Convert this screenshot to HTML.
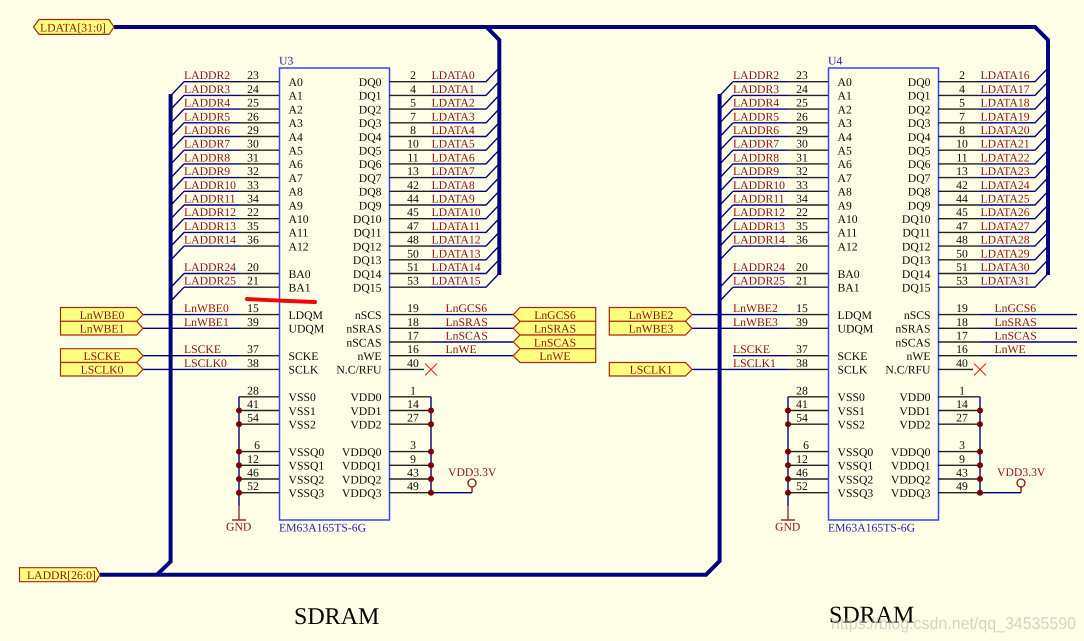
<!DOCTYPE html>
<html>
<head>
<meta charset="utf-8">
<style>
html,body{margin:0;padding:0;width:1084px;height:641px;overflow:hidden;background:#ffffe8}
svg{display:block}
text{font-family:"Liberation Serif",serif;font-size:11.7px;fill:#0a0a0a;text-rendering:geometricPrecision}
.a{fill:#8c1414}
.p{text-anchor:middle}
.r{text-anchor:end}
.c{text-anchor:middle;fill:#8c1414}
.u{fill:#2424a8}
.t{font-size:24px;fill:#050505}
.w{font-family:"Liberation Sans",sans-serif;font-size:17px;fill:#a8a8a8;fill-opacity:.5}
.b{fill:none;stroke:#00007f;stroke-width:1.4}
.k{fill:none;stroke:#222;stroke-width:1.4}
.bus{fill:none;stroke:#000080;stroke-width:4}
.port{fill:#ffff80;stroke:#a62a10;stroke-width:1.2}
</style>
</head>
<body>
<svg width="1084" height="641" viewBox="0 0 1084 641" xmlns="http://www.w3.org/2000/svg">
<rect width="1084" height="641" fill="#ffffe8"/>
<defs>
<g id="chip">
<rect x="279.5" y="68" width="110" height="452" fill="none" stroke="#3644ff" stroke-width="1.5"/>
<path class="b" d="M184 81.7H239M184 95.4H239M184 109.1H239M184 122.8H239M184 136.5H239M184 150.2H239M184 163.9H239M184 177.6H239M184 191.3H239M184 205H239M184 218.7H239M184 232.4H239M184 246.1H239M184 273.5H239M184 287.2H239"/>
<path class="b" d="M184 81.7L171 95.4M184 95.4L171 109.1M184 109.1L171 122.8M184 122.8L171 136.5M184 136.5L171 150.2M184 150.2L171 163.9M184 163.9L171 177.6M184 177.6L171 191.3M184 191.3L171 205M184 205L171 218.7M184 218.7L171 232.4M184 232.4L171 246.1M184 246.1L171 259.8M184 273.5L171 287.2M184 287.2L171 300.9"/>
<path class="k" d="M239 81.7H279M239 95.4H279M239 109.1H279M239 122.8H279M239 136.5H279M239 150.2H279M239 163.9H279M239 177.6H279M239 191.3H279M239 205H279M239 218.7H279M239 232.4H279M239 246.1H279M239 273.5H279M239 287.2H279"/>
<path class="k" d="M389 81.7H431M389 95.4H431M389 109.1H431M389 122.8H431M389 136.5H431M389 150.2H431M389 163.9H431M389 177.6H431M389 191.3H431M389 205H431M389 218.7H431M389 232.4H431M389 246.1H431M389 259.8H431M389 273.5H431M389 287.2H431"/>
<path class="b" d="M431 81.7H486L499 68M431 95.4H486L499 81.7M431 109.1H486L499 95.4M431 122.8H486L499 109.1M431 136.5H486L499 122.8M431 150.2H486L499 136.5M431 163.9H486L499 150.2M431 177.6H486L499 163.9M431 191.3H486L499 177.6M431 205H486L499 191.3M431 218.7H486L499 205M431 232.4H486L499 218.7M431 246.1H486L499 232.4M431 259.8H486L499 246.1M431 273.5H486L499 259.8M431 287.2H486L499 273.5"/>
<path class="b" d="M143 314.6H239M143 328.3H239M184 355.7H239M143 369.4H239"/>
<path class="k" d="M239 314.6H279M239 328.3H279M239 355.7H279M239 369.4H279"/>
<path class="k" d="M389 314.6H431M389 328.3H431M389 342H431M389 355.7H431M389 369.4H424"/>
<path class="b" d="M431 314.6H513M431 328.3H513M431 342H513M431 355.7H513"/>
<path d="M425 363.5L437 375.5M437 363.5L425 375.5" fill="none" stroke="#f02a2a" stroke-width="1.2"/>
<path class="k" d="M279 396.8H239M239 410.5H279M239 424.2H279M239 451.6H279M239 465.3H279M239 479H279M239 492.7H279"/>
<path class="k" d="M389 396.8H431M389 410.5H431M389 424.2H431M389 451.6H431M389 465.3H431M389 479H431M389 492.7H431"/>
<path class="b" d="M239 396.8V506M431 396.8V492.7H472"/>
<path d="M239 506V520M232 520H246" fill="none" stroke="#94302a" stroke-width="1.4"/>
<path d="M472 492.7V487" fill="none" stroke="#8c1414" stroke-width="1.4"/>
<circle cx="472" cy="483" r="4" fill="none" stroke="#8c1414" stroke-width="1.3"/>
<g fill="#7a0000"><circle cx="239" cy="410.5" r="3"/><circle cx="239" cy="424.2" r="3"/><circle cx="239" cy="451.6" r="3"/><circle cx="239" cy="465.3" r="3"/><circle cx="239" cy="479" r="3"/><circle cx="239" cy="492.7" r="3"/><circle cx="431" cy="410.5" r="3"/><circle cx="431" cy="424.2" r="3"/><circle cx="431" cy="451.6" r="3"/><circle cx="431" cy="465.3" r="3"/><circle cx="431" cy="479" r="3"/><circle cx="431" cy="492.7" r="3"/></g>
</g>
</defs>

<use href="#chip"/>
<use href="#chip" x="549"/>

<path class="bus" d="M114 27H1035L1048 40V275"/>
<path class="bus" d="M486.5 27L499.3 40V275"/>
<path class="bus" d="M100 574.7H706L719.6 561V94"/>
<path class="bus" d="M170.6 94V561.5L157 574.7"/>
<path class="b" d="M143 355.7H184M1062 314.6H1077M1062 328.3H1077M1062 342H1077M1062 355.7H1077"/>
<path d="M247 299Q285 301 315 302" fill="none" stroke="#f00808" stroke-width="4" stroke-linecap="round"/>

<polygon class="port" points="33.5,27 39,19.5 109,19.5 114,27 109,34.4 39,34.4"/>
<text class="a" x="40" y="31.3">LDATA[31:0]</text>
<polygon class="port" points="19.5,567.7 96,567.7 100,574.7 96,581.7 19.5,581.7"/>
<text class="a" x="27" y="578.8">LADDR[26:0]</text>

<g class="port">
<polygon points="60.5,307.5 136.7,307.5 143,314.6 136.7,321.3 60.5,321.3"/>
<polygon points="60.5,321.3 136.7,321.3 143,328.3 136.7,335 60.5,335"/>
<polygon points="60.5,348.7 136.7,348.7 143,355.7 136.7,362.5 60.5,362.5"/>
<polygon points="60.5,362.5 136.7,362.5 143,369.4 136.7,376 60.5,376"/>
<polygon points="513.3,314.6 520,307.5 595.7,307.5 595.7,321.3 520,321.3"/>
<polygon points="513.3,328.3 520,321.3 595.7,321.3 595.7,335 520,335"/>
<polygon points="513.3,342 520,335 595.7,335 595.7,348.7 520,348.7"/>
<polygon points="513.3,355.7 520,348.7 595.7,348.7 595.7,362.5 520,362.5"/>
<polygon points="609.3,307.5 685.5,307.5 692,314.6 685.5,321.3 609.3,321.3"/>
<polygon points="609.3,321.3 685.5,321.3 692,328.3 685.5,335 609.3,335"/>
<polygon points="609.3,362.5 685.5,362.5 692,369.4 685.5,376 609.3,376"/>
</g>
<text class="c" x="102" y="319">LnWBE0</text>
<text class="c" x="102" y="332.6">LnWBE1</text>
<text class="c" x="102" y="360">LSCKE</text>
<text class="c" x="102" y="373.7">LSCLK0</text>
<text class="c" x="555" y="319">LnGCS6</text>
<text class="c" x="555" y="332.6">LnSRAS</text>
<text class="c" x="555" y="346.3">LnSCAS</text>
<text class="c" x="555" y="360">LnWE</text>
<text class="c" x="651" y="319">LnWBE2</text>
<text class="c" x="651" y="332.6">LnWBE3</text>
<text class="c" x="651" y="373.7">LSCLK1</text>

<g>
<text class="u" x="279" y="64.5">U3</text>
<text class="u" x="279" y="531.6">EM63A165TS-6G</text>
<text class="a" x="448" y="476">VDD3.3V</text>
<text class="a" x="226" y="530.7">GND</text>
<text class="t" x="294" y="624">SDRAM</text>

<g transform="translate(0,81.7)"><text class="a" x="184" y="-2.5">LADDR2</text><text class="p" x="253" y="-2.5">23</text><text x="288.5" y="4.3">A0</text><text class="r" x="381.5" y="4.3">DQ0</text><text class="p" x="413" y="-2.5">2</text><text class="a" x="431.5" y="-2.5">LDATA0</text></g>
<g transform="translate(0,95.4)"><text class="a" x="184" y="-2.5">LADDR3</text><text class="p" x="253" y="-2.5">24</text><text x="288.5" y="4.3">A1</text><text class="r" x="381.5" y="4.3">DQ1</text><text class="p" x="413" y="-2.5">4</text><text class="a" x="431.5" y="-2.5">LDATA1</text></g>
<g transform="translate(0,109.1)"><text class="a" x="184" y="-2.5">LADDR4</text><text class="p" x="253" y="-2.5">25</text><text x="288.5" y="4.3">A2</text><text class="r" x="381.5" y="4.3">DQ2</text><text class="p" x="413" y="-2.5">5</text><text class="a" x="431.5" y="-2.5">LDATA2</text></g>
<g transform="translate(0,122.8)"><text class="a" x="184" y="-2.5">LADDR5</text><text class="p" x="253" y="-2.5">26</text><text x="288.5" y="4.3">A3</text><text class="r" x="381.5" y="4.3">DQ3</text><text class="p" x="413" y="-2.5">7</text><text class="a" x="431.5" y="-2.5">LDATA3</text></g>
<g transform="translate(0,136.5)"><text class="a" x="184" y="-2.5">LADDR6</text><text class="p" x="253" y="-2.5">29</text><text x="288.5" y="4.3">A4</text><text class="r" x="381.5" y="4.3">DQ4</text><text class="p" x="413" y="-2.5">8</text><text class="a" x="431.5" y="-2.5">LDATA4</text></g>
<g transform="translate(0,150.2)"><text class="a" x="184" y="-2.5">LADDR7</text><text class="p" x="253" y="-2.5">30</text><text x="288.5" y="4.3">A5</text><text class="r" x="381.5" y="4.3">DQ5</text><text class="p" x="413" y="-2.5">10</text><text class="a" x="431.5" y="-2.5">LDATA5</text></g>
<g transform="translate(0,163.9)"><text class="a" x="184" y="-2.5">LADDR8</text><text class="p" x="253" y="-2.5">31</text><text x="288.5" y="4.3">A6</text><text class="r" x="381.5" y="4.3">DQ6</text><text class="p" x="413" y="-2.5">11</text><text class="a" x="431.5" y="-2.5">LDATA6</text></g>
<g transform="translate(0,177.6)"><text class="a" x="184" y="-2.5">LADDR9</text><text class="p" x="253" y="-2.5">32</text><text x="288.5" y="4.3">A7</text><text class="r" x="381.5" y="4.3">DQ7</text><text class="p" x="413" y="-2.5">13</text><text class="a" x="431.5" y="-2.5">LDATA7</text></g>
<g transform="translate(0,191.3)"><text class="a" x="184" y="-2.5">LADDR10</text><text class="p" x="253" y="-2.5">33</text><text x="288.5" y="4.3">A8</text><text class="r" x="381.5" y="4.3">DQ8</text><text class="p" x="413" y="-2.5">42</text><text class="a" x="431.5" y="-2.5">LDATA8</text></g>
<g transform="translate(0,205)"><text class="a" x="184" y="-2.5">LADDR11</text><text class="p" x="253" y="-2.5">34</text><text x="288.5" y="4.3">A9</text><text class="r" x="381.5" y="4.3">DQ9</text><text class="p" x="413" y="-2.5">44</text><text class="a" x="431.5" y="-2.5">LDATA9</text></g>
<g transform="translate(0,218.7)"><text class="a" x="184" y="-2.5">LADDR12</text><text class="p" x="253" y="-2.5">22</text><text x="288.5" y="4.3">A10</text><text class="r" x="381.5" y="4.3">DQ10</text><text class="p" x="413" y="-2.5">45</text><text class="a" x="431.5" y="-2.5">LDATA10</text></g>
<g transform="translate(0,232.4)"><text class="a" x="184" y="-2.5">LADDR13</text><text class="p" x="253" y="-2.5">35</text><text x="288.5" y="4.3">A11</text><text class="r" x="381.5" y="4.3">DQ11</text><text class="p" x="413" y="-2.5">47</text><text class="a" x="431.5" y="-2.5">LDATA11</text></g>
<g transform="translate(0,246.1)"><text class="a" x="184" y="-2.5">LADDR14</text><text class="p" x="253" y="-2.5">36</text><text x="288.5" y="4.3">A12</text><text class="r" x="381.5" y="4.3">DQ12</text><text class="p" x="413" y="-2.5">48</text><text class="a" x="431.5" y="-2.5">LDATA12</text></g>
<g transform="translate(0,259.8)"><text class="r" x="381.5" y="4.3">DQ13</text><text class="p" x="413" y="-2.5">50</text><text class="a" x="431.5" y="-2.5">LDATA13</text></g>
<g transform="translate(0,273.5)"><text class="a" x="184" y="-2.5">LADDR24</text><text class="p" x="253" y="-2.5">20</text><text x="288.5" y="4.3">BA0</text><text class="r" x="381.5" y="4.3">DQ14</text><text class="p" x="413" y="-2.5">51</text><text class="a" x="431.5" y="-2.5">LDATA14</text></g>
<g transform="translate(0,287.2)"><text class="a" x="184" y="-2.5">LADDR25</text><text class="p" x="253" y="-2.5">21</text><text x="288.5" y="4.3">BA1</text><text class="r" x="381.5" y="4.3">DQ15</text><text class="p" x="413" y="-2.5">53</text><text class="a" x="431.5" y="-2.5">LDATA15</text></g>
<g transform="translate(0,314.6)"><text class="a" x="184" y="-2.5">LnWBE0</text><text class="p" x="253" y="-2.5">15</text><text x="288.5" y="4.3">LDQM</text><text class="r" x="381.5" y="4.3">nSCS</text><text class="p" x="413" y="-2.5">19</text><text class="a" x="445.5" y="-2.5">LnGCS6</text></g>
<g transform="translate(0,328.3)"><text class="a" x="184" y="-2.5">LnWBE1</text><text class="p" x="253" y="-2.5">39</text><text x="288.5" y="4.3">UDQM</text><text class="r" x="381.5" y="4.3">nSRAS</text><text class="p" x="413" y="-2.5">18</text><text class="a" x="445.5" y="-2.5">LnSRAS</text></g>
<g transform="translate(0,342)"><text class="r" x="381.5" y="4.3">nSCAS</text><text class="p" x="413" y="-2.5">17</text><text class="a" x="445.5" y="-2.5">LnSCAS</text></g>
<g transform="translate(0,355.7)"><text class="a" x="184" y="-2.5">LSCKE</text><text class="p" x="253" y="-2.5">37</text><text x="288.5" y="4.3">SCKE</text><text class="r" x="381.5" y="4.3">nWE</text><text class="p" x="413" y="-2.5">16</text><text class="a" x="445.5" y="-2.5">LnWE</text></g>
<g transform="translate(0,369.4)"><text class="a" x="184" y="-2.5">LSCLK0</text><text class="p" x="253" y="-2.5">38</text><text x="288.5" y="4.3">SCLK</text><text class="r" x="381.5" y="4.3">N.C/RFU</text><text class="p" x="413" y="-2.5">40</text></g>
<g transform="translate(0,396.8)"><text class="p" x="253" y="-2.5">28</text><text x="288.5" y="4.3">VSS0</text><text class="r" x="381.5" y="4.3">VDD0</text><text class="p" x="413" y="-2.5">1</text></g>
<g transform="translate(0,410.5)"><text class="p" x="253" y="-2.5">41</text><text x="288.5" y="4.3">VSS1</text><text class="r" x="381.5" y="4.3">VDD1</text><text class="p" x="413" y="-2.5">14</text></g>
<g transform="translate(0,424.2)"><text class="p" x="253" y="-2.5">54</text><text x="288.5" y="4.3">VSS2</text><text class="r" x="381.5" y="4.3">VDD2</text><text class="p" x="413" y="-2.5">27</text></g>
<g transform="translate(0,451.6)"><text class="p" x="257" y="-2.5">6</text><text x="288.5" y="4.3">VSSQ0</text><text class="r" x="381.5" y="4.3">VDDQ0</text><text class="p" x="413" y="-2.5">3</text></g>
<g transform="translate(0,465.3)"><text class="p" x="253" y="-2.5">12</text><text x="288.5" y="4.3">VSSQ1</text><text class="r" x="381.5" y="4.3">VDDQ1</text><text class="p" x="413" y="-2.5">9</text></g>
<g transform="translate(0,479)"><text class="p" x="253" y="-2.5">46</text><text x="288.5" y="4.3">VSSQ2</text><text class="r" x="381.5" y="4.3">VDDQ2</text><text class="p" x="413" y="-2.5">43</text></g>
<g transform="translate(0,492.7)"><text class="p" x="253" y="-2.5">52</text><text x="288.5" y="4.3">VSSQ3</text><text class="r" x="381.5" y="4.3">VDDQ3</text><text class="p" x="413" y="-2.5">49</text></g>
</g>

<g transform="translate(549,0)">
<text class="u" x="279" y="64.5">U4</text>
<text class="u" x="279" y="531.6">EM63A165TS-6G</text>
<text class="a" x="448" y="476">VDD3.3V</text>
<text class="a" x="226" y="530.7">GND</text>
<text class="t" x="280" y="622.7">SDRAM</text>

<g transform="translate(0,81.7)"><text class="a" x="184" y="-2.5">LADDR2</text><text class="p" x="253" y="-2.5">23</text><text x="288.5" y="4.3">A0</text><text class="r" x="381.5" y="4.3">DQ0</text><text class="p" x="413" y="-2.5">2</text><text class="a" x="431.5" y="-2.5">LDATA16</text></g>
<g transform="translate(0,95.4)"><text class="a" x="184" y="-2.5">LADDR3</text><text class="p" x="253" y="-2.5">24</text><text x="288.5" y="4.3">A1</text><text class="r" x="381.5" y="4.3">DQ1</text><text class="p" x="413" y="-2.5">4</text><text class="a" x="431.5" y="-2.5">LDATA17</text></g>
<g transform="translate(0,109.1)"><text class="a" x="184" y="-2.5">LADDR4</text><text class="p" x="253" y="-2.5">25</text><text x="288.5" y="4.3">A2</text><text class="r" x="381.5" y="4.3">DQ2</text><text class="p" x="413" y="-2.5">5</text><text class="a" x="431.5" y="-2.5">LDATA18</text></g>
<g transform="translate(0,122.8)"><text class="a" x="184" y="-2.5">LADDR5</text><text class="p" x="253" y="-2.5">26</text><text x="288.5" y="4.3">A3</text><text class="r" x="381.5" y="4.3">DQ3</text><text class="p" x="413" y="-2.5">7</text><text class="a" x="431.5" y="-2.5">LDATA19</text></g>
<g transform="translate(0,136.5)"><text class="a" x="184" y="-2.5">LADDR6</text><text class="p" x="253" y="-2.5">29</text><text x="288.5" y="4.3">A4</text><text class="r" x="381.5" y="4.3">DQ4</text><text class="p" x="413" y="-2.5">8</text><text class="a" x="431.5" y="-2.5">LDATA20</text></g>
<g transform="translate(0,150.2)"><text class="a" x="184" y="-2.5">LADDR7</text><text class="p" x="253" y="-2.5">30</text><text x="288.5" y="4.3">A5</text><text class="r" x="381.5" y="4.3">DQ5</text><text class="p" x="413" y="-2.5">10</text><text class="a" x="431.5" y="-2.5">LDATA21</text></g>
<g transform="translate(0,163.9)"><text class="a" x="184" y="-2.5">LADDR8</text><text class="p" x="253" y="-2.5">31</text><text x="288.5" y="4.3">A6</text><text class="r" x="381.5" y="4.3">DQ6</text><text class="p" x="413" y="-2.5">11</text><text class="a" x="431.5" y="-2.5">LDATA22</text></g>
<g transform="translate(0,177.6)"><text class="a" x="184" y="-2.5">LADDR9</text><text class="p" x="253" y="-2.5">32</text><text x="288.5" y="4.3">A7</text><text class="r" x="381.5" y="4.3">DQ7</text><text class="p" x="413" y="-2.5">13</text><text class="a" x="431.5" y="-2.5">LDATA23</text></g>
<g transform="translate(0,191.3)"><text class="a" x="184" y="-2.5">LADDR10</text><text class="p" x="253" y="-2.5">33</text><text x="288.5" y="4.3">A8</text><text class="r" x="381.5" y="4.3">DQ8</text><text class="p" x="413" y="-2.5">42</text><text class="a" x="431.5" y="-2.5">LDATA24</text></g>
<g transform="translate(0,205)"><text class="a" x="184" y="-2.5">LADDR11</text><text class="p" x="253" y="-2.5">34</text><text x="288.5" y="4.3">A9</text><text class="r" x="381.5" y="4.3">DQ9</text><text class="p" x="413" y="-2.5">44</text><text class="a" x="431.5" y="-2.5">LDATA25</text></g>
<g transform="translate(0,218.7)"><text class="a" x="184" y="-2.5">LADDR12</text><text class="p" x="253" y="-2.5">22</text><text x="288.5" y="4.3">A10</text><text class="r" x="381.5" y="4.3">DQ10</text><text class="p" x="413" y="-2.5">45</text><text class="a" x="431.5" y="-2.5">LDATA26</text></g>
<g transform="translate(0,232.4)"><text class="a" x="184" y="-2.5">LADDR13</text><text class="p" x="253" y="-2.5">35</text><text x="288.5" y="4.3">A11</text><text class="r" x="381.5" y="4.3">DQ11</text><text class="p" x="413" y="-2.5">47</text><text class="a" x="431.5" y="-2.5">LDATA27</text></g>
<g transform="translate(0,246.1)"><text class="a" x="184" y="-2.5">LADDR14</text><text class="p" x="253" y="-2.5">36</text><text x="288.5" y="4.3">A12</text><text class="r" x="381.5" y="4.3">DQ12</text><text class="p" x="413" y="-2.5">48</text><text class="a" x="431.5" y="-2.5">LDATA28</text></g>
<g transform="translate(0,259.8)"><text class="r" x="381.5" y="4.3">DQ13</text><text class="p" x="413" y="-2.5">50</text><text class="a" x="431.5" y="-2.5">LDATA29</text></g>
<g transform="translate(0,273.5)"><text class="a" x="184" y="-2.5">LADDR24</text><text class="p" x="253" y="-2.5">20</text><text x="288.5" y="4.3">BA0</text><text class="r" x="381.5" y="4.3">DQ14</text><text class="p" x="413" y="-2.5">51</text><text class="a" x="431.5" y="-2.5">LDATA30</text></g>
<g transform="translate(0,287.2)"><text class="a" x="184" y="-2.5">LADDR25</text><text class="p" x="253" y="-2.5">21</text><text x="288.5" y="4.3">BA1</text><text class="r" x="381.5" y="4.3">DQ15</text><text class="p" x="413" y="-2.5">53</text><text class="a" x="431.5" y="-2.5">LDATA31</text></g>
<g transform="translate(0,314.6)"><text class="a" x="184" y="-2.5">LnWBE2</text><text class="p" x="253" y="-2.5">15</text><text x="288.5" y="4.3">LDQM</text><text class="r" x="381.5" y="4.3">nSCS</text><text class="p" x="413" y="-2.5">19</text><text class="a" x="445.5" y="-2.5">LnGCS6</text></g>
<g transform="translate(0,328.3)"><text class="a" x="184" y="-2.5">LnWBE3</text><text class="p" x="253" y="-2.5">39</text><text x="288.5" y="4.3">UDQM</text><text class="r" x="381.5" y="4.3">nSRAS</text><text class="p" x="413" y="-2.5">18</text><text class="a" x="445.5" y="-2.5">LnSRAS</text></g>
<g transform="translate(0,342)"><text class="r" x="381.5" y="4.3">nSCAS</text><text class="p" x="413" y="-2.5">17</text><text class="a" x="445.5" y="-2.5">LnSCAS</text></g>
<g transform="translate(0,355.7)"><text class="a" x="184" y="-2.5">LSCKE</text><text class="p" x="253" y="-2.5">37</text><text x="288.5" y="4.3">SCKE</text><text class="r" x="381.5" y="4.3">nWE</text><text class="p" x="413" y="-2.5">16</text><text class="a" x="445.5" y="-2.5">LnWE</text></g>
<g transform="translate(0,369.4)"><text class="a" x="184" y="-2.5">LSCLK1</text><text class="p" x="253" y="-2.5">38</text><text x="288.5" y="4.3">SCLK</text><text class="r" x="381.5" y="4.3">N.C/RFU</text><text class="p" x="413" y="-2.5">40</text></g>
<g transform="translate(0,396.8)"><text class="p" x="253" y="-2.5">28</text><text x="288.5" y="4.3">VSS0</text><text class="r" x="381.5" y="4.3">VDD0</text><text class="p" x="413" y="-2.5">1</text></g>
<g transform="translate(0,410.5)"><text class="p" x="253" y="-2.5">41</text><text x="288.5" y="4.3">VSS1</text><text class="r" x="381.5" y="4.3">VDD1</text><text class="p" x="413" y="-2.5">14</text></g>
<g transform="translate(0,424.2)"><text class="p" x="253" y="-2.5">54</text><text x="288.5" y="4.3">VSS2</text><text class="r" x="381.5" y="4.3">VDD2</text><text class="p" x="413" y="-2.5">27</text></g>
<g transform="translate(0,451.6)"><text class="p" x="257" y="-2.5">6</text><text x="288.5" y="4.3">VSSQ0</text><text class="r" x="381.5" y="4.3">VDDQ0</text><text class="p" x="413" y="-2.5">3</text></g>
<g transform="translate(0,465.3)"><text class="p" x="253" y="-2.5">12</text><text x="288.5" y="4.3">VSSQ1</text><text class="r" x="381.5" y="4.3">VDDQ1</text><text class="p" x="413" y="-2.5">9</text></g>
<g transform="translate(0,479)"><text class="p" x="253" y="-2.5">46</text><text x="288.5" y="4.3">VSSQ2</text><text class="r" x="381.5" y="4.3">VDDQ2</text><text class="p" x="413" y="-2.5">43</text></g>
<g transform="translate(0,492.7)"><text class="p" x="253" y="-2.5">52</text><text x="288.5" y="4.3">VSSQ3</text><text class="r" x="381.5" y="4.3">VDDQ3</text><text class="p" x="413" y="-2.5">49</text></g>
</g>

<text class="w" x="831" y="629" textLength="245" lengthAdjust="spacingAndGlyphs">https://blog.csdn.net/qq_34535590</text>
</svg>
</body>
</html>
